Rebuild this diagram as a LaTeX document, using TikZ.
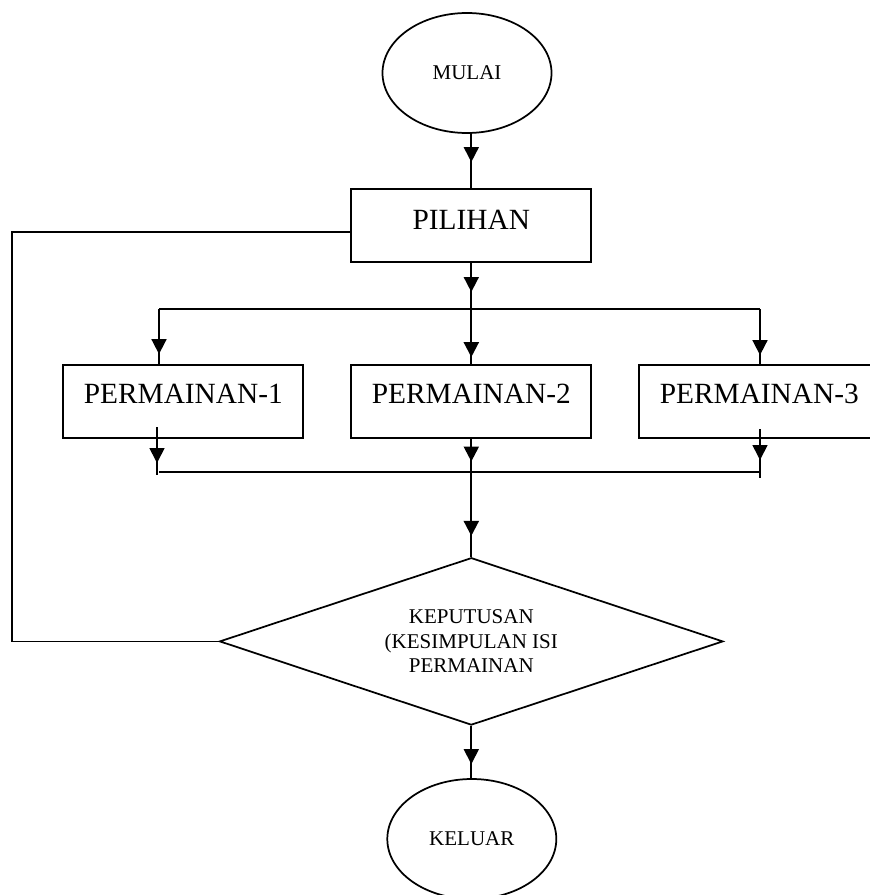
\documentclass[tikz,border=0pt]{standalone}
\usepackage{fontspec}
\setmainfont{Liberation Serif}
\usetikzlibrary{shapes.geometric,arrows.meta,decorations.markings}
\tikzset{
  tipA/.tip={Triangle[length=11.25pt,width=11.25pt]},
  ln/.style={line width=1.3pt},
  lnthick/.style={line width=1.7pt},
  bigtext/.style={font=\fontsize{22}{26}\selectfont},
  smalltext/.style={font=\fontsize{15.75}{18.4}\selectfont},
  term/.style={ellipse, draw, ln, minimum width=126.75pt, minimum height=90pt, inner sep=0pt, smalltext},
  proc/.style={rectangle, draw, ln, minimum width=180pt, inner xsep=0pt, inner ysep=0pt, text height=28.7pt, text depth=25.8pt, bigtext},
  dec/.style={diamond, draw, ln, aspect=3, minimum width=377.6pt, minimum height=125.5pt, inner sep=0pt, align=center, smalltext},
  arrowat/.style={decoration={markings, mark=at position #1 with {\arrow{tipA}}}, postaction={decorate}},
  arrowtwo/.style 2 args={decoration={markings, mark=at position #1 with {\arrow{tipA}}, mark=at position #2 with {\arrow{tipA}}}, postaction={decorate}},
}
\begin{document}
\begin{tikzpicture}[x=0.75pt, y=-0.75pt]
\useasboundingbox (0,0) rectangle (870,895);
\clip (0,0) rectangle (870,895);
\fill[white] (0,0) rectangle (870,895);

% nodes
\node[term] (mulai) at (467,73) {MULAI};
\node[proc, text height=30.75pt, text depth=23.8pt] (pilihan) at (471.3,225.3) {PILIHAN};
\node[proc] (p1) at (183.3,401.3) {PERMAINAN-1};
\node[proc] (p2) at (471.3,401.3) {PERMAINAN-2};
\node[proc] (p3) at (759.3,401.3) {PERMAINAN-3};
\node[dec] (dia) at (471.3,641.4) {KEPUTUSAN\\(KESIMPULAN ISI\\PERMAINAN};
\node[term] (keluar) at (471.8,839) {KELUAR};

% bus coordinates
\coordinate (bL) at (159,309);
\coordinate (bR) at (760,309);
\coordinate (bC) at (471.3,309);
\coordinate (cL) at (159,472.3);
\coordinate (cR) at (760,472.3);
\coordinate (p1o) at (157,427);
\coordinate (p1e) at (157,475);
\coordinate (p3o) at (760,429.3);
\coordinate (p3e) at (760,478);

% connectors
\draw[ln, arrowat=-19.5pt] (mulai.south -| pilihan.north) -- (pilihan.north);
\draw[ln, arrowat=-12.75pt] (pilihan.south) -- (bC);
\draw[lnthick, arrowat=-5.25pt] (bC) -- (p2.north);
\draw[ln] (bL) -- (bR);
\draw[ln, arrowat=-7.5pt] (bL) -- (p1.north -| bL);
\draw[ln, arrowat=-6.75pt] (bR) -- (p3.north -| bR);

\draw[ln, arrowat=-9pt] (p1o) -- (p1e);
\draw[ln, arrowat=-13.5pt] (p3o) -- (p3e);
\draw[ln] (cL) -- (cR);
\draw[lnthick, arrowtwo={17.25pt}{-15.75pt}] (p2.south) -- (dia.north);

\draw[ln, arrowat=-10.5pt] (dia.south) -- (dia.south |- keluar.north);

\draw[ln] ([yshift=-5pt]pilihan.west) -- ++(-338.5,0) |- (dia.west);
\end{tikzpicture}
\end{document}
